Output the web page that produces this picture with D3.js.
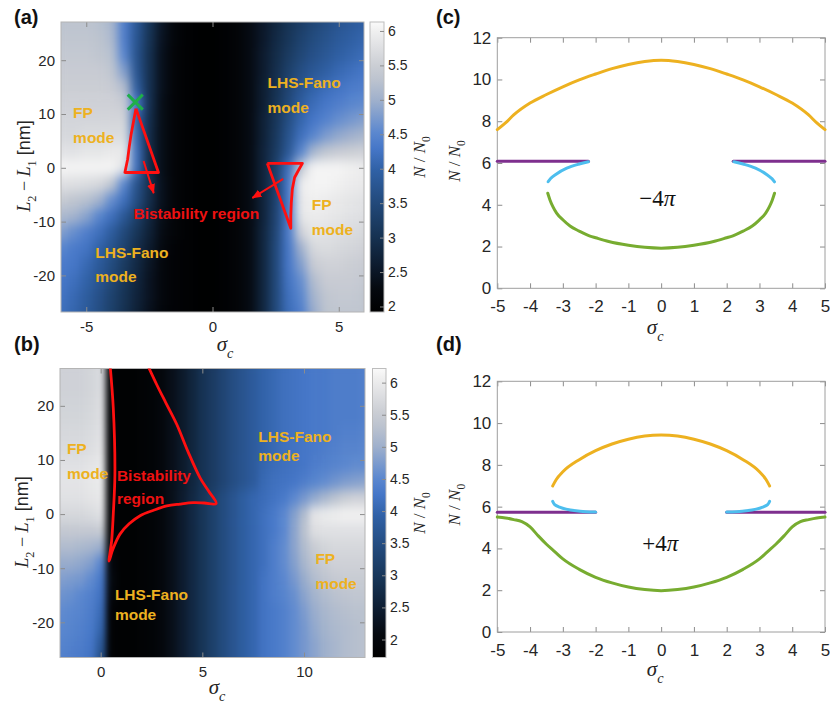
<!DOCTYPE html>
<html>
<head>
<meta charset="utf-8">
<script src="https://cdn.jsdelivr.net/npm/d3@7/dist/d3.min.js"></script>
<style>
  html,body{margin:0;padding:0;background:#fff;}
  svg{display:block;}
</style>
</head>
<body>
<svg id="fig" width="830" height="704"></svg>
<script>
const SANS = '"Liberation Sans", Arial, sans-serif';
const SERIF = '"Liberation Serif", "Times New Roman", serif';

// ---------- panel (a): N/N0 map over sigma_c and L2-L1 ----------
const mapAX = [-6,-5.5,-5,-4.5,-4,-3.5,-3,-2.5,-2,-1.5,-1,-0.5,0,0.5,1,1.5,2,2.5,3,3.5,4,4.5,5,5.5,6];
const mapAY = [27,24,21,18,15,12,9,6,3,0,-3,-6,-9,-12,-15,-18,-21,-24,-27];
const mapAValues = [
  [5.30,5.30,5.30,5.25,5.10,4.40,3.80,3.10,2.50,2.15, 2.00,1.95,1.95,2.00,2.10, 2.30,2.55,2.80,3.05,3.25,3.45,3.60,3.75,3.85,3.95],
  [5.35,5.35,5.35,5.30,5.15,4.40,3.75,3.05,2.45,2.15, 2.00,1.95,1.95,2.00,2.10, 2.30,2.55,2.85,3.10,3.35,3.55,3.70,3.85,3.95,4.05],
  [5.40,5.40,5.40,5.35,5.25,4.50,3.70,3.00,2.40,2.10, 2.00,1.95,1.95,2.00,2.10, 2.30,2.60,2.90,3.20,3.45,3.65,3.80,3.95,4.05,4.15],
  [5.45,5.45,5.45,5.45,5.35,4.80,3.75,3.00,2.40,2.10, 2.00,1.95,1.95,2.00,2.10, 2.30,2.60,2.95,3.30,3.60,3.80,3.95,4.10,4.20,4.30],
  [5.50,5.50,5.50,5.50,5.45,5.20,3.90,3.00,2.40,2.10, 2.00,1.95,1.95,2.00,2.10, 2.30,2.65,3.00,3.40,3.75,4.00,4.15,4.25,4.35,4.40],
  [5.55,5.55,5.55,5.55,5.55,5.45,4.30,3.00,2.35,2.10, 2.00,1.95,1.95,2.00,2.10, 2.30,2.65,3.05,3.50,3.90,4.15,4.30,4.40,4.50,4.55],
  [5.60,5.60,5.60,5.60,5.60,5.60,4.00,2.95,2.35,2.10, 2.00,1.95,1.95,2.00,2.10, 2.30,2.70,3.10,3.60,4.05,4.30,4.45,4.60,4.70,4.80],
  [5.65,5.65,5.70,5.70,5.70,5.70,4.10,2.90,2.35,2.10, 2.00,1.95,1.95,2.00,2.10, 2.30,2.70,3.15,3.70,4.20,4.50,4.75,4.90,5.00,5.10],
  [5.80,5.80,5.85,5.85,5.90,5.90,4.20,2.90,2.35,2.10, 2.00,1.95,1.95,2.00,2.10, 2.30,2.75,3.20,3.80,4.50,5.10,5.35,5.45,5.50,5.55],
  [6.05,6.05,6.05,6.05,6.05,5.80,4.20,2.90,2.35,2.10, 2.00,1.95,1.95,2.00,2.10, 2.30,2.75,3.30,4.20,5.40,6.05,6.05,6.05,6.00,5.95],
  [5.75,5.75,5.70,5.65,5.35,4.50,3.70,3.00,2.40,2.10, 2.00,1.95,1.95,2.00,2.10, 2.30,2.75,3.30,4.30,5.95,6.05,6.05,6.00,5.95,5.90],
  [5.45,5.35,5.25,5.05,4.60,4.20,3.60,2.95,2.40,2.10, 2.00,1.95,1.95,2.00,2.10, 2.30,2.75,3.35,4.30,5.90,6.00,5.95,5.90,5.85,5.80],
  [5.15,5.05,4.85,4.50,4.20,3.80,3.30,2.80,2.35,2.10, 2.00,1.95,1.95,2.00,2.10, 2.30,2.75,3.40,4.30,5.85,5.95,5.90,5.85,5.80,5.75],
  [4.80,4.60,4.40,4.20,3.90,3.50,3.10,2.70,2.30,2.10, 2.00,1.95,1.95,2.00,2.10, 2.30,2.80,3.45,4.35,5.55,5.85,5.80,5.75,5.70,5.65],
  [4.50,4.35,4.25,4.00,3.70,3.35,2.95,2.60,2.25,2.05, 2.00,1.95,1.95,2.00,2.10, 2.30,2.80,3.50,4.30,5.00,5.65,5.70,5.65,5.60,5.55],
  [4.35,4.30,4.10,3.85,3.55,3.20,2.85,2.50,2.20,2.05, 2.00,1.95,1.95,2.00,2.10, 2.30,2.80,3.50,4.30,4.80,5.45,5.55,5.55,5.50,5.45],
  [4.30,4.20,4.00,3.75,3.45,3.10,2.80,2.45,2.20,2.05, 2.00,1.95,1.95,2.00,2.10, 2.30,2.80,3.50,4.25,4.60,5.20,5.45,5.45,5.45,5.40],
  [4.25,4.10,3.90,3.65,3.35,3.05,2.75,2.45,2.20,2.05, 2.00,1.95,1.95,2.00,2.10, 2.30,2.80,3.50,4.20,4.50,5.05,5.35,5.40,5.40,5.35],
  [4.20,4.05,3.85,3.60,3.30,3.00,2.70,2.40,2.15,2.05, 2.00,1.95,1.95,2.00,2.10, 2.30,2.80,3.50,4.15,4.40,4.95,5.30,5.35,5.35,5.35]
];
const colorRangeA = [1.92, 6.13];

// ---------- panel (b) ----------
const mapBX = [-2,-1.5,-1,-0.5,0,0.5,1,1.5,2,2.5,3,3.5,4,4.5,5,5.5,6,6.5,7,7.5,8,8.5,9,9.5,10,10.5,11,11.5,12,12.5,13];
const mapBY = [27,24,21,18,15,12,9,6,3,0,-3,-6,-9,-12,-15,-18,-21,-24,-27];
const mapBValues = [
  [5.60,5.60,5.60,5.65,5.75, 1.85,1.80,1.80,1.85,1.90,2.00,2.20,2.40,2.65,2.90,3.10,3.30,3.50,3.65,3.80, 3.95,4.05,4.15,4.20,4.25,4.30,4.30,4.35,4.35,4.35,4.40],
  [5.60,5.60,5.60,5.65,5.75, 1.85,1.80,1.80,1.85,1.90,2.00,2.20,2.40,2.65,2.90,3.10,3.30,3.50,3.65,3.80, 3.95,4.05,4.15,4.20,4.25,4.30,4.30,4.35,4.35,4.35,4.40],
  [5.62,5.62,5.62,5.67,5.78, 1.85,1.80,1.80,1.85,1.90,2.00,2.20,2.40,2.65,2.90,3.10,3.30,3.50,3.65,3.80, 3.95,4.05,4.15,4.20,4.25,4.30,4.30,4.35,4.35,4.35,4.40],
  [5.65,5.65,5.65,5.70,5.80, 1.85,1.80,1.80,1.85,1.90,2.00,2.20,2.40,2.65,2.90,3.10,3.30,3.50,3.65,3.80, 3.95,4.05,4.15,4.20,4.25,4.30,4.30,4.35,4.35,4.35,4.40],
  [5.70,5.70,5.70,5.75,5.85, 1.85,1.80,1.80,1.85,1.90,2.00,2.20,2.40,2.65,2.90,3.10,3.30,3.50,3.65,3.80, 3.95,4.05,4.15,4.20,4.25,4.30,4.30,4.35,4.40,4.40,4.45],
  [5.75,5.75,5.75,5.80,5.90, 1.85,1.80,1.80,1.85,1.90,2.00,2.20,2.40,2.65,2.90,3.10,3.30,3.50,3.65,3.80, 3.95,4.05,4.15,4.20,4.25,4.30,4.35,4.40,4.45,4.45,4.50],
  [5.85,5.85,5.85,5.90,5.95, 1.85,1.80,1.80,1.85,1.90,2.00,2.20,2.40,2.65,2.90,3.10,3.30,3.50,3.65,3.80, 4.00,4.10,4.15,4.20,4.25,4.35,4.40,4.45,4.50,4.55,4.55],
  [5.90,5.90,5.90,5.95,6.00, 1.85,1.80,1.80,1.85,1.90,2.00,2.20,2.40,2.65,2.90,3.10,3.30,3.50,3.65,3.80, 4.05,4.15,4.20,4.25,4.35,4.45,4.55,4.65,4.75,4.80,4.85],
  [5.85,5.85,5.85,5.90,5.95, 1.85,1.80,1.80,1.85,1.90,2.00,2.20,2.45,2.70,2.95,3.20,3.45,3.65,3.85,4.00, 4.10,4.20,4.30,4.50,4.70,4.90,5.10,5.30,5.50,5.60,5.60],
  [5.70,5.70,5.70,5.75,5.85, 1.85,1.80,1.80,1.85,1.90,2.00,2.20,2.45,2.70,2.95,3.20,3.45,3.65,3.85,4.00, 4.15,4.30,4.50,4.80,5.20,5.90,6.00,6.05,6.10,6.10,6.10],
  [5.45,5.45,5.45,5.45,5.50, 1.85,1.80,1.80,1.85,1.90,2.00,2.20,2.45,2.70,2.95,3.20,3.45,3.65,3.85,4.00, 4.15,4.30,4.50,4.85,5.30,5.80,5.85,5.85,5.85,5.85,5.85],
  [5.20,5.20,5.15,5.10,5.00, 1.85,1.80,1.80,1.85,1.90,2.00,2.20,2.45,2.70,2.95,3.20,3.45,3.65,3.85,4.00, 4.15,4.35,4.55,4.85,5.20,5.50,5.65,5.70,5.70,5.70,5.70],
  [4.95,4.95,4.90,4.80,4.50, 2.00,1.80,1.80,1.85,1.90,2.00,2.20,2.45,2.70,2.95,3.20,3.45,3.65,3.85,4.00, 4.15,4.35,4.55,4.80,5.10,5.35,5.50,5.60,5.60,5.60,5.60],
  [4.80,4.75,4.70,4.55,4.30, 2.10,1.80,1.80,1.85,1.90,2.00,2.20,2.45,2.70,2.95,3.20,3.45,3.65,3.85,4.00, 4.20,4.35,4.50,4.70,4.95,5.20,5.35,5.45,5.50,5.50,5.50],
  [4.65,4.60,4.50,4.40,4.20, 2.00,1.80,1.80,1.85,1.90,2.00,2.20,2.45,2.70,2.95,3.20,3.45,3.65,3.85,4.00, 4.20,4.35,4.45,4.60,4.85,5.05,5.20,5.30,5.35,5.40,5.40],
  [4.55,4.50,4.45,4.35,4.10, 1.85,1.80,1.80,1.85,1.90,2.00,2.20,2.45,2.70,2.95,3.20,3.45,3.65,3.85,4.00, 4.20,4.30,4.40,4.55,4.75,4.95,5.10,5.20,5.25,5.30,5.30],
  [4.50,4.45,4.40,4.30,4.00, 1.85,1.80,1.80,1.85,1.90,2.00,2.20,2.45,2.70,2.95,3.20,3.45,3.65,3.85,4.00, 4.20,4.30,4.40,4.55,4.70,4.90,5.05,5.15,5.20,5.25,5.30],
  [4.45,4.40,4.35,4.25,3.80, 1.85,1.80,1.80,1.85,1.90,2.00,2.20,2.45,2.70,2.95,3.20,3.45,3.65,3.85,4.00, 4.20,4.30,4.40,4.55,4.70,4.85,5.00,5.10,5.20,5.25,5.30],
  [4.40,4.35,4.30,4.20,3.60, 1.85,1.80,1.80,1.85,1.90,2.00,2.20,2.45,2.70,2.95,3.20,3.45,3.65,3.85,4.00, 4.20,4.30,4.40,4.55,4.70,4.85,5.00,5.10,5.20,5.25,5.30]
];
const colorRangeB = [1.72, 6.22];

// shared colormap: black -> navy -> blue -> grey -> white
const cmapStops  = [0, 0.08, 0.14, 0.26, 0.375, 0.49, 0.565, 0.62, 0.73, 0.80, 0.85, 0.91, 0.97, 1];
const cmapColors = ["#000000","#05090f","#0b1626","#163252","#22497a","#3061a6","#4677c8","#5c88cf","#9fb0cc","#bcc3cf","#cbced4","#dedfe2","#f0f0f0","#fafafa"];
const colorbarTicks = [2,2.5,3,3.5,4,4.5,5,5.5,6];

// ---------- annotations on the maps ----------
const bistA_left  = [[-3.03,11.0],[-3.12,8.8],[-3.22,6.3],[-3.30,3.8],[-3.36,1.6],[-3.47,-0.87],[-2.14,-0.87],[-3.03,11.0]];
const bistA_right = [[2.17,0.82],[3.56,0.82],[3.40,-0.5],[3.25,-1.8],[3.16,-4.0],[3.12,-6.5],[3.10,-9.0],[3.10,-11.25],[2.17,0.82]];
const arrowsA = [[[-2.73,1.26],[-2.33,-4.7]], [[2.80,-2.06],[1.58,-5.6]]];
const crossA = [-3.06, 12.2];
const bistB = [[0.45,28],[0.62,19.6],[0.70,7.4],[0.62,0],[0.54,-4.9],[0.41,-8.7],
               [0.60,-6.5],[0.95,-3.7],[1.40,-1.8],[1.94,-0.3],[2.60,0.7],[3.25,1.5],[3.90,1.85],[4.56,2.1],[5.10,2.05],[5.68,1.95],
               [5.30,4.3],[4.89,6.7],[4.30,11.5],[3.74,16.6],[3.20,20.6],[2.76,23.9],[2.25,28]];

const labelsA = [
  {lines:["FP","mode"], x:-5.52, y:9.3, gap:25, color:"#EDB120"},
  {lines:["LHS-Fano","mode"], x:2.18, y:14.8, gap:25, color:"#EDB120"},
  {lines:["FP","mode"], x:3.93, y:-7.75, gap:25, color:"#EDB120"},
  {lines:["LHS-Fano","mode"], x:-4.64, y:-16.75, gap:24.5, color:"#EDB120"},
  {lines:["Bistability region"], x:-3.13, y:-9.6, gap:0, color:"#ee1111"}
];
const labelsB = [
  {lines:["FP","mode"], x:-1.66, y:11.1, gap:25, color:"#EDB120"},
  {lines:["Bistability","region"], x:0.8, y:6.1, gap:23, color:"#ee1111"},
  {lines:["LHS-Fano","mode"], x:7.75, y:13.3, gap:19, color:"#EDB120"},
  {lines:["FP","mode"], x:10.56, y:-9.3, gap:25, color:"#EDB120"},
  {lines:["LHS-Fano","mode"], x:0.7, y:-15.9, gap:19.5, color:"#EDB120"}
];

// ---------- panel (c): branches for -4pi ----------
const cOrange = [[-5,7.6],[-4.75,7.92],[-4.5,8.3],[-4,8.87],[-3.5,9.28],[-3,9.65],[-2.5,9.98],[-2,10.26],[-1.5,10.52],[-1,10.72],[-0.5,10.86],[0,10.92],
                 [0.5,10.86],[1,10.72],[1.5,10.52],[2,10.26],[2.5,9.98],[3,9.65],[3.5,9.28],[4,8.87],[4.5,8.3],[4.75,7.92],[5,7.6]];
const cPurpleL = [[-5,6.08],[-2.22,6.08]];
const cPurpleR = [[2.2,6.08],[5,6.08]];
const cCyanL = [[-2.22,6.06],[-2.5,5.95],[-2.88,5.75],[-3.24,5.43],[-3.38,5.25],[-3.45,5.1]];
const cCyanR = [[2.22,6.06],[2.5,5.95],[2.88,5.75],[3.24,5.43],[3.38,5.25],[3.46,5.1]];
const cGreen = [[-3.46,4.55],[-3.39,4.22],[-3.3,3.9],[-3.19,3.6],[-3,3.28],[-2.78,2.98],[-2.5,2.74],[-2.17,2.5],[-2,2.42],[-1.6,2.24],[-1,2.06],[-0.5,1.96],[0,1.92],
                [0.5,1.96],[1,2.06],[1.6,2.24],[2,2.42],[2.17,2.5],[2.5,2.74],[2.78,2.98],[3,3.28],[3.19,3.6],[3.3,3.9],[3.39,4.22],[3.46,4.55]];

// ---------- panel (d): branches for +4pi ----------
const dOrange = [[-3.31,6.99],[-3.2,7.3],[-3,7.67],[-2.5,8.25],[-2,8.68],[-1.5,9.0],[-1,9.23],[-0.5,9.38],[0,9.43],
                 [0.5,9.38],[1,9.23],[1.5,9.0],[2,8.68],[2.5,8.25],[3,7.67],[3.2,7.3],[3.31,6.99]];
const dPurpleL = [[-5,5.73],[-2.0,5.73]];
const dPurpleR = [[2.0,5.73],[5,5.73]];
const dCyanL = [[-3.31,6.25],[-3.25,6.1],[-3.1,5.98],[-2.9,5.88],[-2.6,5.8],[-2.3,5.76],[-2.0,5.74]];
const dCyanR = [[3.31,6.25],[3.25,6.1],[3.1,5.98],[2.9,5.88],[2.6,5.8],[2.3,5.76],[2.0,5.74]];
const dGreen = [[-5,5.5],[-4.75,5.46],[-4.5,5.38],[-4.25,5.28],[-4,5.03],[-3.75,4.6],[-3.5,4.2],[-3.25,3.85],[-3,3.5],[-2.5,3.0],[-2,2.62],[-1.5,2.35],[-1,2.15],[-0.5,2.03],[0,1.98],
                [0.5,2.03],[1,2.15],[1.5,2.35],[2,2.62],[2.5,3.0],[3,3.5],[3.25,3.85],[3.5,4.2],[3.75,4.6],[4,5.03],[4.25,5.28],[4.5,5.38],[4.75,5.46],[5,5.5]];

const lineXTicks = [-5,-4,-3,-2,-1,0,1,2,3,4,5];
const lineYTicks = [0,2,4,6,8,10,12];
const branchColors = {orange:"#EDB120", purple:"#7E2F8E", cyan:"#4DBEEE", green:"#77AC30"};

// ============================================================
const svg = d3.select("#fig");
const defs = svg.append("defs");
const cmap = d3.scaleLinear().domain(cmapStops).range(cmapColors).interpolate(d3.interpolateRgb).clamp(true);

defs.append("marker").attr("id","arrowRed")
  .attr("viewBox","0 0 10 8").attr("refX",9).attr("refY",4)
  .attr("markerUnits","userSpaceOnUse").attr("markerWidth",10).attr("markerHeight",8)
  .attr("orient","auto")
  .append("path").attr("d","M0,0 L10,4 L0,8 Z").attr("fill","#ff1010");

function rich(sel, parts, size){
  let shift = 0;
  parts.forEach(p => {
    const ts = sel.append("tspan").text(p.t);
    if (p.font) ts.attr("font-family", p.font);
    if (p.it) ts.attr("font-style","italic");
    const want = p.sub ? size*0.32 : 0;
    if (want !== shift){ ts.attr("dy", want - shift); shift = want; }
    if (p.sub) ts.attr("font-size", size*0.68);
  });
}

function styleAxis(a, fs){
  a.select(".domain").remove();
  a.attr("font-family", SANS).attr("font-size", fs);
  a.selectAll(".tick line").attr("stroke","#8c8c8c");
  a.selectAll(".tick text").attr("fill","#262626");
  return a;
}

function drawMap(P){
  const g = svg.append("g");
  const x = d3.scaleLinear().domain(P.xDomain).range([P.x0, P.x1]);
  const y = d3.scaleLinear().domain(P.yDomain).range([P.y1, P.y0]);
  const tval = v => (v - P.cRange[0]) / (P.cRange[1] - P.cRange[0]);
  const dx = P.xs[1] - P.xs[0], dy = P.ys[0] - P.ys[1];
  const cells = [];
  P.values.forEach((row,i) => row.forEach((v,j) => cells.push({x:P.xs[j], y:P.ys[i], v})));

  const fid = "smooth" + P.id;
  const f = defs.append("filter").attr("id", fid)
    .attr("filterUnits","userSpaceOnUse")
    .attr("x", P.x0).attr("y", P.y0).attr("width", P.x1-P.x0).attr("height", P.y1-P.y0)
    .attr("color-interpolation-filters","sRGB");
  f.append("feGaussianBlur").attr("stdDeviation", P.blur).attr("edgeMode","duplicate");
  f.append("feComponentTransfer").append("feFuncA").attr("type","table").attr("tableValues","1 1");

  const cid = "clip" + P.id;
  defs.append("clipPath").attr("id", cid).append("rect")
    .attr("x", P.x0).attr("y", P.y0).attr("width", P.x1-P.x0).attr("height", P.y1-P.y0);

  g.append("g").attr("clip-path", `url(#${cid})`)
   .append("g").attr("filter", `url(#${fid})`)
   .selectAll("rect").data(cells).join("rect")
    .attr("x", d => x(d.x - dx/2))
    .attr("y", d => y(d.y + dy/2))
    .attr("width", d => x(d.x + dx/2) - x(d.x - dx/2) + 0.6)
    .attr("height", d => y(d.y - dy/2) - y(d.y + dy/2) + 0.6)
    .attr("fill", d => cmap(tval(d.v)));

  // axes (ticks inside, box)
  styleAxis(g.append("g").attr("transform",`translate(0,${P.y1})`)
    .call(d3.axisBottom(x).tickValues(P.xTicks).tickSize(-5).tickPadding(P.xPad).tickFormat(d=>String(d))), P.fs);
  styleAxis(g.append("g").attr("transform",`translate(0,${P.y0})`)
    .call(d3.axisTop(x).tickValues(P.xTicks).tickSize(-5).tickFormat("")), P.fs);
  styleAxis(g.append("g").attr("transform",`translate(${P.x0},0)`)
    .call(d3.axisLeft(y).tickValues(P.yTicks).tickSize(-5).tickPadding(P.yPad).tickFormat(d=>String(d))), P.fs);
  styleAxis(g.append("g").attr("transform",`translate(${P.x1},0)`)
    .call(d3.axisRight(y).tickValues(P.yTicks).tickSize(-5).tickFormat("")), P.fs);
  g.append("rect").attr("x",P.x0).attr("y",P.y0).attr("width",P.x1-P.x0).attr("height",P.y1-P.y0)
    .attr("fill","none").attr("stroke","#b4b4b4").attr("stroke-width",1);

  // colorbar
  const gid = "grad" + P.id;
  const lg = defs.append("linearGradient").attr("id", gid).attr("x1",0).attr("y1",1).attr("x2",0).attr("y2",0);
  cmapStops.forEach((s,i) => lg.append("stop").attr("offset", s).attr("stop-color", cmapColors[i]));
  const cy = d3.scaleLinear().domain(P.cRange).range([P.y1, P.y0]);
  g.append("rect").attr("x",P.cbX).attr("y",P.y0).attr("width",P.cbW).attr("height",P.y1-P.y0)
    .attr("fill",`url(#${gid})`).attr("stroke","#bdbdbd").attr("stroke-width",1);
  styleAxis(g.append("g").attr("transform",`translate(${P.cbX+P.cbW},0)`)
    .call(d3.axisRight(cy).tickValues(colorbarTicks).tickSize(-4).tickPadding(4).tickFormat(d=>String(d))), 14);
  const cl = g.append("text").attr("transform",`translate(${P.cbLabelX},${P.cbLabelY}) rotate(-90)`)
    .attr("text-anchor","middle").attr("font-family",SERIF).attr("font-size",17).attr("fill","#262626");
  rich(cl, [{t:"N",it:true},{t:" / "},{t:"N",it:true},{t:"0",sub:true}], 17);

  // axis titles
  const xl = g.append("text").attr("x", P.xLabelX).attr("y", P.xLabelY)
    .attr("text-anchor","middle").attr("font-family",SERIF).attr("font-size",21).attr("fill","#262626");
  rich(xl, [{t:"σ",it:true},{t:"c",it:true,sub:true}], 21);
  const yl = g.append("text").attr("transform",`translate(${P.yLabelX},${P.yLabelY}) rotate(-90)`)
    .attr("text-anchor","middle").attr("font-family",SERIF).attr("font-size",18).attr("fill","#262626");
  rich(yl, [{t:"L",it:true},{t:"2",sub:true},{t:" − "},{t:"L",it:true},{t:"1",sub:true},{t:" [nm]",font:SANS}], 18);

  // annotations
  const ann = g.append("g").attr("clip-path", `url(#${cid})`);
  const line = d3.line().x(d=>x(d[0])).y(d=>y(d[1]));
  P.shapes.forEach(s => ann.append("path").attr("d", line.curve(s.curve)(s.pts))
    .attr("fill","none").attr("stroke","#ff1010").attr("stroke-width",2.8).attr("stroke-linejoin","round"));
  (P.arrows||[]).forEach(a => ann.append("line")
    .attr("x1",x(a[0][0])).attr("y1",y(a[0][1])).attr("x2",x(a[1][0])).attr("y2",y(a[1][1]))
    .attr("stroke","#ff1010").attr("stroke-width",2).attr("marker-end","url(#arrowRed)"));
  if (P.cross){
    const cx = x(P.cross[0]), cyy = y(P.cross[1]), r = 7.5;
    ann.append("path").attr("d",`M${cx-r},${cyy-r}L${cx+r},${cyy+r}M${cx-r},${cyy+r}L${cx+r},${cyy-r}`)
      .attr("stroke","#1fae4a").attr("stroke-width",3).attr("fill","none");
  }
  P.labels.forEach(L => {
    const t = g.append("text").attr("x", x(L.x)).attr("y", y(L.y))
      .attr("font-family",SANS).attr("font-weight","bold").attr("font-size",15.5).attr("fill",L.color);
    L.lines.forEach((s,i) => t.append("tspan").attr("x", x(L.x)).attr("dy", i ? L.gap : 0).text(s));
  });

  svg.append("text").attr("x",P.tagX).attr("y",P.tagY).attr("font-family",SANS).attr("font-weight","bold")
    .attr("font-size",20).attr("fill","#111").text(P.tag);
}

drawMap({
  id:"A", tag:"(a)", tagX:14, tagY:24,
  xs:mapAX, ys:mapAY, values:mapAValues, cRange:colorRangeA,
  x0:61, x1:364, y0:22, y1:312, xDomain:[-6,6], yDomain:[-26.8,27.1],
  blur:"5 6", xTicks:[-5,0,5], yTicks:[-20,-10,0,10,20], fs:15, xPad:9, yPad:6,
  cbX:370, cbW:14, cbLabelX:425, cbLabelY:157,
  xLabelX:225, xLabelY:351, yLabelX:30, yLabelY:166,
  shapes:[{pts:bistA_left, curve:d3.curveLinear},{pts:bistA_right, curve:d3.curveLinear}],
  arrows:arrowsA, cross:crossA, labels:labelsA
});
drawMap({
  id:"B", tag:"(b)", tagX:14, tagY:351,
  xs:mapBX, ys:mapBY, values:mapBValues, cRange:colorRangeB,
  x0:60, x1:365, y0:368.5, y1:657.5, xDomain:[-2,13], yDomain:[-26.5,26.9],
  blur:"3.2 6", xTicks:[0,5,10], yTicks:[-20,-10,0,10,20], fs:15, xPad:9, yPad:6,
  cbX:372.5, cbW:13.5, cbLabelX:425, cbLabelY:513,
  xLabelX:217, xLabelY:694, yLabelX:28, yLabelY:522,
  shapes:[{pts:bistB, curve:d3.curveCatmullRom.alpha(0.5)}],
  labels:labelsB
});

function drawLines(P){
  const g = svg.append("g");
  const x = d3.scaleLinear().domain([-5,5]).range([P.x0, P.x1]);
  const y = d3.scaleLinear().domain([0,12]).range([P.y1, P.y0]);
  styleAxis(g.append("g").attr("transform",`translate(0,${P.y1})`)
    .call(d3.axisBottom(x).tickValues(lineXTicks).tickSize(-5).tickPadding(12).tickFormat(d=>String(d))), 17);
  styleAxis(g.append("g").attr("transform",`translate(0,${P.y0})`)
    .call(d3.axisTop(x).tickValues(lineXTicks).tickSize(-5).tickFormat("")), 17);
  styleAxis(g.append("g").attr("transform",`translate(${P.x0},0)`)
    .call(d3.axisLeft(y).tickValues(lineYTicks).tickSize(-5).tickPadding(6).tickFormat(d=>String(d))), 17);
  styleAxis(g.append("g").attr("transform",`translate(${P.x1},0)`)
    .call(d3.axisRight(y).tickValues(lineYTicks).tickSize(-5).tickFormat("")), 17);
  g.append("rect").attr("x",P.x0).attr("y",P.y0).attr("width",P.x1-P.x0).attr("height",P.y1-P.y0)
    .attr("fill","none").attr("stroke","#9e9e9e").attr("stroke-width",1);

  const smooth = d3.line().x(d=>x(d[0])).y(d=>y(d[1])).curve(d3.curveMonotoneX);
  const bent = d3.line().x(d=>x(d[0])).y(d=>y(d[1])).curve(d3.curveCatmullRom.alpha(0.5));
  P.series.forEach(s => g.append("path").attr("d", (s.c === "cyan" ? bent : smooth)(s.pts)).attr("fill","none")
    .attr("stroke", branchColors[s.c]).attr("stroke-width",3).attr("stroke-linecap","round"));

  const t = g.append("text").attr("x", x(P.note[0])).attr("y", y(P.note[1])).attr("text-anchor","middle")
    .attr("font-family",SERIF).attr("font-size",23).attr("fill","#111");
  rich(t, [{t:P.sign+"4"},{t:"π",it:true}], 23);

  const xl = g.append("text").attr("x",(P.x0+P.x1)/2 - 6).attr("y",P.xLabelY)
    .attr("text-anchor","middle").attr("font-family",SERIF).attr("font-size",21).attr("fill","#262626");
  rich(xl, [{t:"σ",it:true},{t:"c",it:true,sub:true}], 21);
  const yl = g.append("text").attr("transform",`translate(${P.yLabelX},${(P.y0+P.y1)/2 - 2}) rotate(-90)`)
    .attr("text-anchor","middle").attr("font-family",SERIF).attr("font-size",17).attr("fill","#262626");
  rich(yl, [{t:"N",it:true},{t:" / "},{t:"N",it:true},{t:"0",sub:true}], 17);

  svg.append("text").attr("x",P.tagX).attr("y",P.tagY).attr("font-family",SANS).attr("font-weight","bold")
    .attr("font-size",20).attr("fill","#111").text(P.tag);
}

drawLines({
  tag:"(c)", tagX:436, tagY:24, x0:497.3, x1:825, y0:37.7, y1:288.3,
  xLabelY:334, yLabelX:460, sign:"−", note:[-0.12, 3.95],
  series:[{pts:cOrange,c:"orange"},{pts:cPurpleL,c:"purple"},{pts:cPurpleR,c:"purple"},
          {pts:cCyanL,c:"cyan"},{pts:cCyanR,c:"cyan"},{pts:cGreen,c:"green"}]
});
drawLines({
  tag:"(d)", tagX:436, tagY:351, x0:497.3, x1:825, y0:381.3, y1:632,
  xLabelY:676, yLabelX:460, sign:"+", note:[-0.03, 3.9],
  series:[{pts:dOrange,c:"orange"},{pts:dPurpleL,c:"purple"},{pts:dPurpleR,c:"purple"},
          {pts:dCyanL,c:"cyan"},{pts:dCyanR,c:"cyan"},{pts:dGreen,c:"green"}]
});
</script>
</body>
</html>
